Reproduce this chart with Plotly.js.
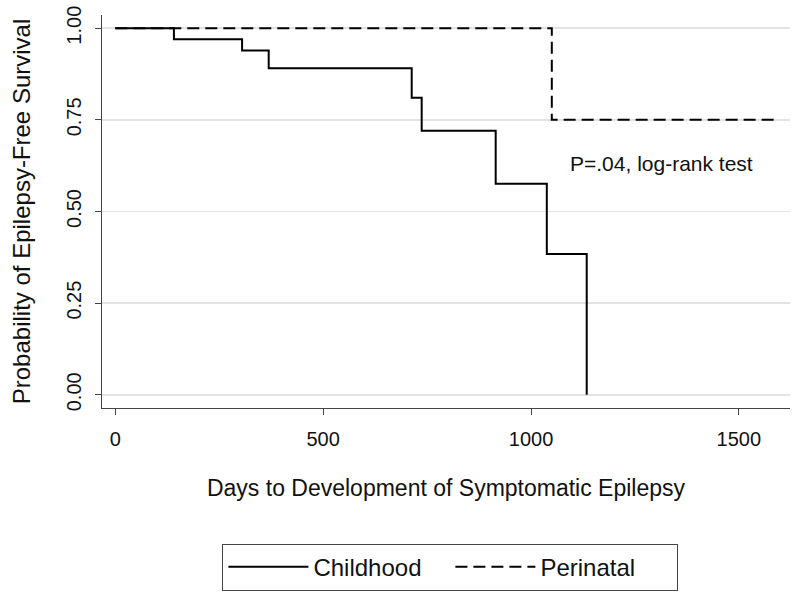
<!DOCTYPE html>
<html>
<head>
<meta charset="utf-8">
<script src="https://cdn.plot.ly/plotly-3.0.1.min.js"></script>
<style>html,body{margin:0;padding:0;background:#fff;}#chart{width:800px;height:600px;}</style>
</head>
<body>
<div id="chart"></div>
<script>
const childhoodDays = [0, 141, 305, 369, 713, 737, 915, 1038, 1134];
const childhoodSurv = [1.0, 0.970, 0.939, 0.891, 0.810, 0.720, 0.576, 0.384, 0.0];
const perinatalDays = [0, 1050, 1590];
const perinatalSurv = [1.0, 0.75, 0.75];
const xTicks = [0, 500, 1000, 1500];
const yTicks = [0, 0.25, 0.5, 0.75, 1.0];
const yTickLabels = ["0.00", "0.25", "0.50", "0.75", "1.00"];
const seriesNames = ["Childhood", "Perinatal"];
const annotationText = "P=.04, log-rank test";

const font = "Liberation Sans, Arial, sans-serif";

const traces = [
  {x: childhoodDays, y: childhoodSurv, name: seriesNames[0], mode: "lines",
   line: {shape: "hv", color: "#000", width: 2}},
  {x: perinatalDays, y: perinatalSurv, name: seriesNames[1], mode: "lines",
   line: {shape: "hv", color: "#000", width: 2, dash: "12px,6px"}}
];

const layout = {
  width: 800, height: 600,
  margin: {l: 102, r: 10, t: 15, b: 188},
  paper_bgcolor: "#fff", plot_bgcolor: "#fff",
  font: {family: font, size: 16, color: "#111"},
  showlegend: true,
  legend: {orientation: "h", x: 0.175, xanchor: "left", y: -0.345, yanchor: "top",
           bordercolor: "#444", borderwidth: 1, font: {size: 24, family: font},
           itemwidth: 80, entrywidth: 132},
  xaxis: {range: [-32, 1623], tickvals: xTicks, ticks: "outside", ticklen: 6,
          tickcolor: "#444", showline: true, linecolor: "#444", linewidth: 1,
          showgrid: false, zeroline: false, tickfont: {size: 20}, ticklabelstandoff: 7,
          title: {text: "Days to Development of Symptomatic Epilepsy", font: {size: 23}, standoff: 30}},
  yaxis: {range: [-0.036, 1.036], tickvals: yTicks, ticktext: yTickLabels, tickangle: -90,
          ticks: "outside", ticklen: 6, tickcolor: "#444", showline: true, linecolor: "#444",
          linewidth: 1, showgrid: true, gridcolor: "#e3e3e3", gridwidth: 1.5, zeroline: false,
          tickfont: {size: 20}, ticklabelstandoff: 6,
          title: {text: "Probability of Epilepsy-Free Survival", font: {size: 24}, standoff: 25}},
  annotations: [{x: 1315, y: 0.63, xref: "x", yref: "y", text: annotationText, showarrow: false,
                 font: {size: 21, family: font}}]
};

Plotly.newPlot("chart", traces, layout, {displayModeBar: false, staticPlot: true});
</script>
</body>
</html>
